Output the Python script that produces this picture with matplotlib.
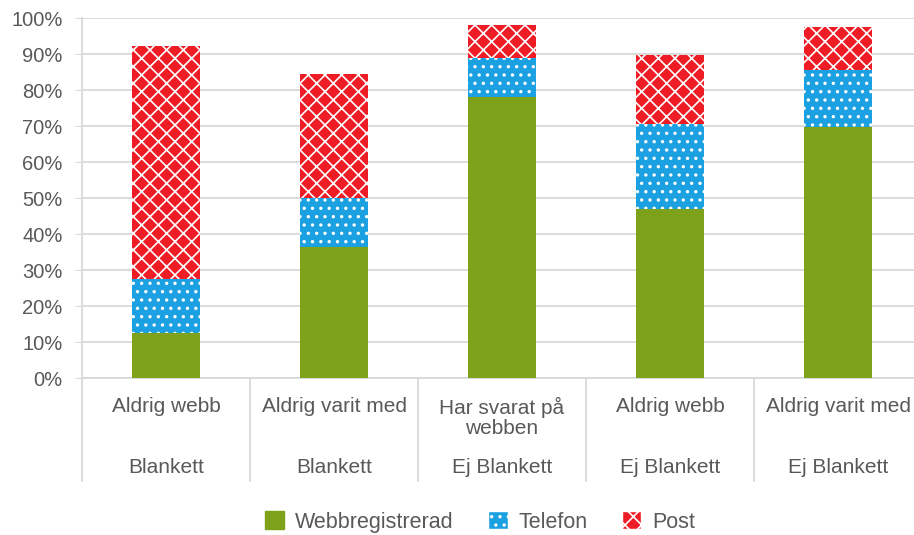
import matplotlib.pyplot as plt
from matplotlib.patches import Patch

plt.rcParams['font.family'] = ['Liberation Sans', 'DejaVu Sans']
plt.rcParams['hatch.linewidth'] = 1.2

# data
labels_top = ["Aldrig webb", "Aldrig varit med", "Har svarat på\nwebben", "Aldrig webb", "Aldrig varit med"]
labels_bottom = ["Blankett", "Blankett", "Ej Blankett", "Ej Blankett", "Ej Blankett"]
webb = [12.6, 36.4, 78.1, 46.9, 69.7]
telefon = [14.9, 13.6, 10.7, 23.7, 15.8]
post = [64.8, 34.4, 9.2, 19.1, 12.0]

green = "#7da21a"
blue = "#1ba1e2"
red = "#ee1c25"
txt = "#595959"

fig = plt.figure(figsize=(9.14, 5.35), dpi=100)
ax = fig.add_axes([82 / 914, 1 - 378 / 535, 840 / 914, 360 / 535])

x = list(range(len(webb)))
w = 0.4
ax.bar(x, webb, w, color=green, edgecolor=green, linewidth=0, zorder=3)
b1 = [a for a in webb]
ax.bar(x, telefon, w, bottom=b1, color=blue, edgecolor="white", hatch="..", linewidth=0, zorder=3)
b2 = [a + b for a, b in zip(webb, telefon)]
ax.bar(x, post, w, bottom=b2, color=red, edgecolor="white", hatch="xx", linewidth=0, zorder=3)

ax.set_xlim(-0.5, len(webb) - 0.5)
ax.set_ylim(0, 100)
ax.set_yticks(range(0, 101, 10))
ax.set_yticklabels([f"{v}%" for v in range(0, 101, 10)], color=txt, fontsize=14.5)
ax.tick_params(axis='y', length=5, color="#d9d9d9", pad=9)
ax.tick_params(axis='x', length=0, labelbottom=False)
ax.grid(axis='y', color="#d9d9d9", linewidth=1.3, zorder=0)
for s in ["top", "right"]:
    ax.spines[s].set_visible(False)
ax.spines["left"].set_color("#d9d9d9")
ax.spines["bottom"].set_color("#d9d9d9")
ax.spines["left"].set_linewidth(1.3)
ax.spines["bottom"].set_linewidth(1.3)

# category separators and labels
trans = ax.get_xaxis_transform()
for i in range(len(webb) + 1):
    ax.plot([i - 0.5, i - 0.5], [0, -0.285], transform=trans, color="#d9d9d9",
            linewidth=1.3, clip_on=False)
for i in range(len(webb)):
    ax.text(i, -0.052, labels_top[i], transform=trans, ha="center", va="top",
            color=txt, fontsize=15, linespacing=1.1)
    ax.text(i, -0.222, labels_bottom[i], transform=trans, ha="center", va="top",
            color=txt, fontsize=15)

handles = [Patch(facecolor=green, edgecolor=green, label="Webbregistrerad"),
           Patch(facecolor=blue, edgecolor="white", hatch="..", label="Telefon"),
           Patch(facecolor=red, edgecolor="white", hatch="xx", label="Post")]
leg = fig.legend(handles=handles, loc="center", bbox_to_anchor=(480 / 914, 1 - 522 / 535),
                 ncol=3, frameon=False, fontsize=15.5, handlelength=0.9, handleheight=0.9,
                 handletextpad=0.5, columnspacing=1.6)
for t in leg.get_texts():
    t.set_color(txt)

fig.savefig("out.png", dpi=100)
